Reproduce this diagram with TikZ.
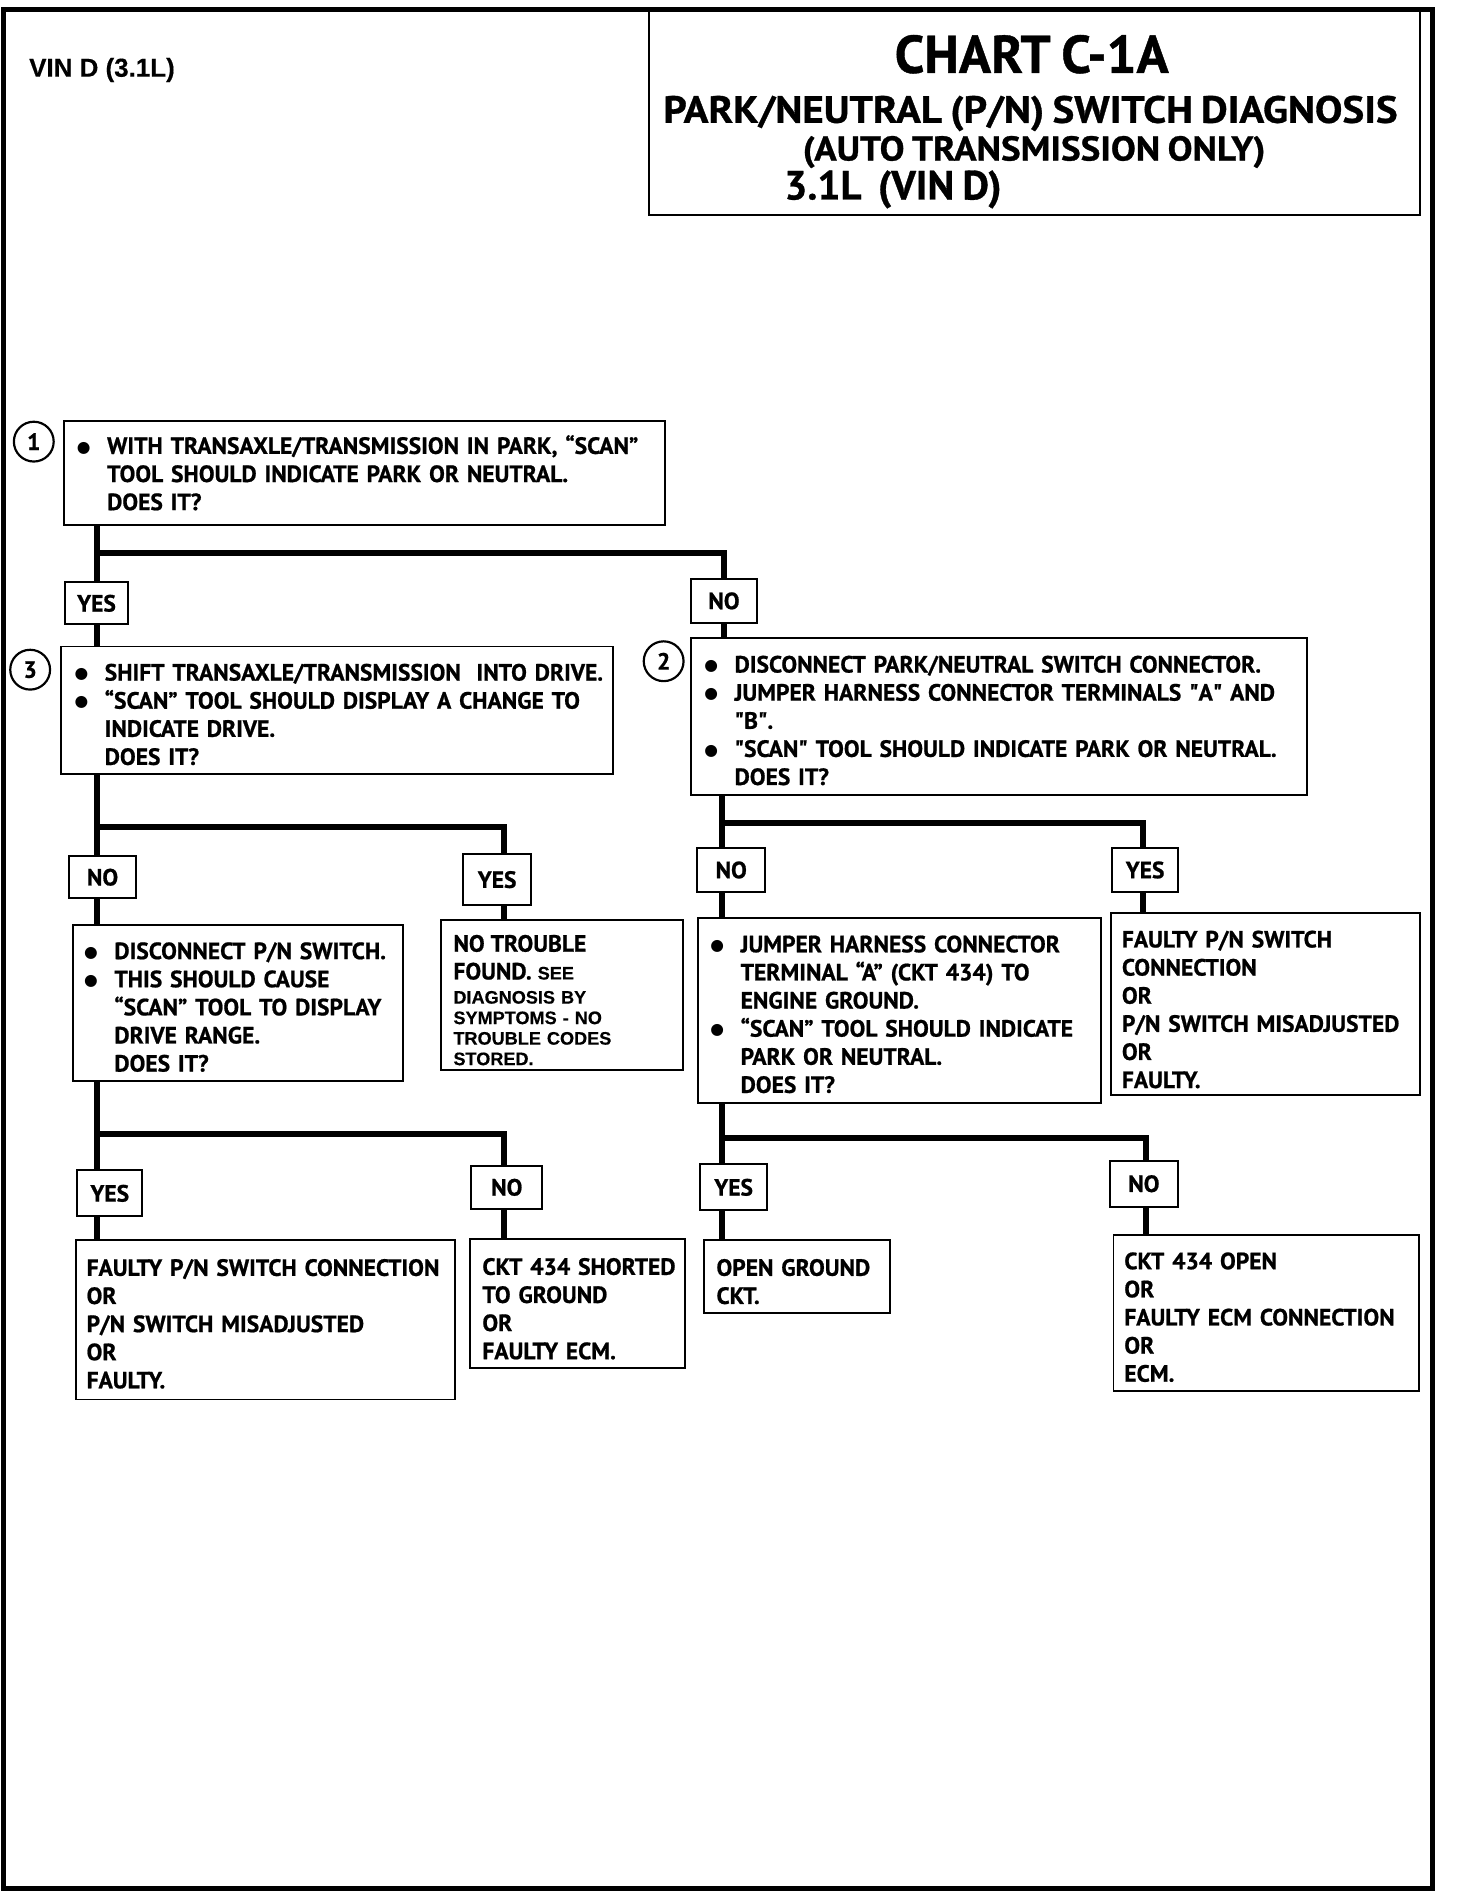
\documentclass[tikz,border=0pt]{standalone}
\usepackage{fontspec}
\setmainfont{PT Sans}[WordSpace=0.8, BoldFeatures={FakeBold=0.8}]
\newfontfamily\arialfont{Liberation Sans}[BoldFeatures={FakeBold=0.4}]
\newfontfamily\dejavu{DejaVu Sans}
\newcommand\myBody{\rmfamily\bfseries\fontsize{19.5}{23.3}\selectfont}
\newcommand\mySmall{\arialfont\bfseries\fontsize{15}{17}\selectfont}
\newcommand\myBl{\makebox[25pt][l]{\raisebox{1.5pt}{\dejavu\fontsize{13}{13}\selectfont ●}}}
\newcommand\myInd{\hspace*{25pt}}
\newcommand\myQ{\textquotedbl}
\newcommand\myTab[2][5.5pt]{\raisebox{-#1}[\height][\depth]{\begin{tabular}{@{}l@{}}#2\end{tabular}}}
\begin{document}
\begin{tikzpicture}[x=1pt,y=-1pt,
  bx/.style={draw, line width=1.6pt, anchor=north west, align=left, inner ysep=0pt, font=\myBody},
  lbl/.style={draw, line width=1.6pt, inner sep=0pt, minimum width=54pt, minimum height=36pt, font=\myBody},
  conn/.style={line width=5pt},
  ttl/.style={inner sep=0pt},
  num/.style={draw, circle, line width=1.8pt, minimum size=33pt, inner sep=0pt, font=\myBody}]
\useasboundingbox (0,0) rectangle (1207,1568);
% outer frame
\draw[line width=4.5pt] (3,8) rectangle (1187,1565);
% title
\node[draw, line width=1.6pt, anchor=north west, minimum width=639pt, minimum height=169pt, inner sep=0pt] (title) at (537,8) {};
\node[ttl, font=\bfseries\fontsize{44}{48}\selectfont] (t1) at (855,45) {CHART C-1A};
\node[ttl, font=\bfseries\fontsize{31.5}{34}\selectfont] (t2) at (854,94) {\scalebox{1.08}[1]{PARK/NEUTRAL (P/N) SWITCH DIAGNOSIS}};
\node[ttl, font=\bfseries\fontsize{28.5}{31}\selectfont] (t3) at (857,126) {\scalebox{1.08}[1]{(AUTO TRANSMISSION ONLY)}};
\node[ttl, font=\bfseries\fontsize{33.8}{38}\selectfont] (t4) at (740,157) {3.1L\ \ (VIN D)};
\node[font=\arialfont\bfseries\fontsize{21.5}{24}\selectfont, anchor=west, inner sep=0pt] (vin) at (24,58) {VIN D (3.1L)};

% step boxes
\node[bx, inner xsep=11pt, text width=476pt, minimum width=498pt, minimum height=86pt] (b1) at (52,348)
 {\myTab[3pt]{\myBl WITH TRANSAXLE/TRANSMISSION IN PARK, “SCAN”\\
  \myInd TOOL SHOULD INDICATE PARK OR NEUTRAL.\\
  \myInd DOES IT?}};
\node[num] (n1) at (28,366) {1};

\node[bx, inner xsep=11pt, text width=435pt, minimum width=457pt, minimum height=106pt] (b3) at (50,535)
 {\myTab{\myBl SHIFT TRANSAXLE/TRANSMISSION\ \ INTO DRIVE.\\
  \myBl “SCAN” TOOL SHOULD DISPLAY A CHANGE TO\\
  \myInd INDICATE DRIVE.\\
  \myInd DOES IT?}};
\node[num] (n3) at (25,555) {3};

\node[bx, inner xsep=11pt, text width=488pt, minimum width=510pt, minimum height=130pt] (b2) at (572,528)
 {\myTab{\myBl DISCONNECT PARK/NEUTRAL SWITCH CONNECTOR.\\
  \myBl JUMPER HARNESS CONNECTOR TERMINALS \myQ A\myQ{} AND\\
  \myInd \myQ B\myQ.\\
  \myBl \myQ SCAN\myQ{} TOOL SHOULD INDICATE PARK OR NEUTRAL.\\
  \myInd DOES IT?}};
\node[num] (n2) at (550,548) {2};

\node[bx, inner xsep=9pt, text width=255pt, minimum width=273pt, minimum height=129pt] (b4) at (60,766)
 {\myTab{\myBl DISCONNECT P/N SWITCH.\\
  \myBl THIS SHOULD CAUSE\\
  \myInd “SCAN” TOOL TO DISPLAY\\
  \myInd DRIVE RANGE.\\
  \myInd DOES IT?}};

\node[bx, inner xsep=10pt, text width=180pt, minimum width=200pt, minimum height=124pt, font=\mySmall] (b5) at (365,762)
 {\myTab[6.5pt]{{\myBody NO TROUBLE}\\[4pt]
  {\myBody FOUND.} SEE\\[3pt]
  DIAGNOSIS BY\\
  SYMPTOMS - NO\\
  TROUBLE CODES\\
  STORED.}};

\node[bx, inner xsep=9pt, text width=296pt, minimum width=314pt, minimum height=132pt] (b6) at (62,1027)
 {\myTab{FAULTY P/N SWITCH CONNECTION\\ OR\\ P/N SWITCH MISADJUSTED\\ OR\\ FAULTY.}};

\node[bx, inner xsep=10pt, text width=158pt, minimum width=178pt, minimum height=107pt] (b7) at (389,1026)
 {\myTab[6.5pt]{CKT 434 SHORTED\\ TO GROUND\\ OR\\ FAULTY ECM.}};

\node[bx, inner xsep=10pt, text width=314pt, minimum width=334pt, minimum height=153pt] (b8) at (578,760)
 {\myTab{\myBl JUMPER HARNESS CONNECTOR\\
  \myInd TERMINAL “A” (CKT 434) TO\\
  \myInd ENGINE GROUND.\\
  \myBl “SCAN” TOOL SHOULD INDICATE\\
  \myInd PARK OR NEUTRAL.\\
  \myInd DOES IT?}};

\node[bx, inner xsep=9pt, text width=238pt, minimum width=256pt, minimum height=151pt] (b9) at (920,756)
 {\myTab[6.5pt]{FAULTY P/N SWITCH\\ CONNECTION\\ OR\\ P/N SWITCH MISADJUSTED\\ OR\\ FAULTY.}};

\node[bx, inner xsep=10pt, text width=134pt, minimum width=154pt, minimum height=60pt] (b10) at (583,1027)
 {\myTab[6.5pt]{OPEN GROUND\\ CKT.}};

\node[bx, inner xsep=9pt, text width=235pt, minimum width=253pt, minimum height=129pt] (b11) at (922,1023)
 {\myTab{CKT 434 OPEN\\ OR\\ FAULTY ECM CONNECTION\\ OR\\ ECM.}};

% answer labels
\node[lbl, minimum width=52pt, minimum height=35pt] (y1) at (80,500) {YES};
\node[lbl, minimum width=55pt] (no1) at (600,498) {NO};
\node[lbl, minimum width=55pt, minimum height=35pt] (no3) at (85,727) {NO};
\node[lbl, minimum width=56pt, minimum height=42pt] (y3) at (412,729) {YES};
\node[lbl, minimum width=54pt, minimum height=38pt] (y4) at (91,989) {YES};
\node[lbl, minimum width=59pt] (no4) at (420,984) {NO};
\node[lbl, minimum width=56pt] (no2) at (606,721) {NO};
\node[lbl, minimum width=55pt, minimum height=37pt] (y2) at (949,721) {YES};
\node[lbl, minimum width=55pt, minimum height=38pt] (y8) at (608,984) {YES};
\node[lbl, minimum width=56pt, minimum height=38pt] (no8) at (948,981) {NO};

% junction coordinates
\coordinate (j1) at (80,458);
\coordinate (k1) at (600,458);
\coordinate (j3) at (80,685);
\coordinate (k3) at (418,685);
\coordinate (j4) at (80,940);
\coordinate (k4) at (418,940);
\coordinate (j2) at (598,682);
\coordinate (k2) at (947,682);
\coordinate (j8) at (598,943);
\coordinate (k8) at (950,943);

% connectors
\draw[conn] (b1.south -| j1) -- (y1.north -| j1);
\draw[conn] (y1.south -| j1) -- (b3.north -| j1);
\draw[conn] (j1) -- (k1) -- (k1 |- no1.north);
\draw[conn] (no1.south -| k1) -- (b2.north -| k1);

\draw[conn] (b3.south -| j3) -- (no3.north -| j3);
\draw[conn] (no3.south -| j3) -- (b4.north -| j3);
\draw[conn] (j3) -- (k3) -- (k3 |- y3.north);
\draw[conn] (y3.south -| k3) -- (b5.north -| k3);

\draw[conn] (b4.south -| j4) -- (y4.north -| j4);
\draw[conn] (y4.south -| j4) -- (b6.north -| j4);
\draw[conn] (j4) -- (k4) -- (k4 |- no4.north);
\draw[conn] (no4.south -| k4) -- (b7.north -| k4);

\draw[conn] (b2.south -| j2) -- (no2.north -| j2);
\draw[conn] (no2.south -| j2) -- (b8.north -| j2);
\draw[conn] (j2) -- (k2) -- (k2 |- y2.north);
\draw[conn] (y2.south -| k2) -- (b9.north -| k2);

\draw[conn] (b8.south -| j8) -- (y8.north -| j8);
\draw[conn] (y8.south -| j8) -- (b10.north -| j8);
\draw[conn] (j8) -- (k8) -- (k8 |- no8.north);
\draw[conn] (no8.south -| k8) -- (b11.north -| k8);
\end{tikzpicture}
\end{document}
